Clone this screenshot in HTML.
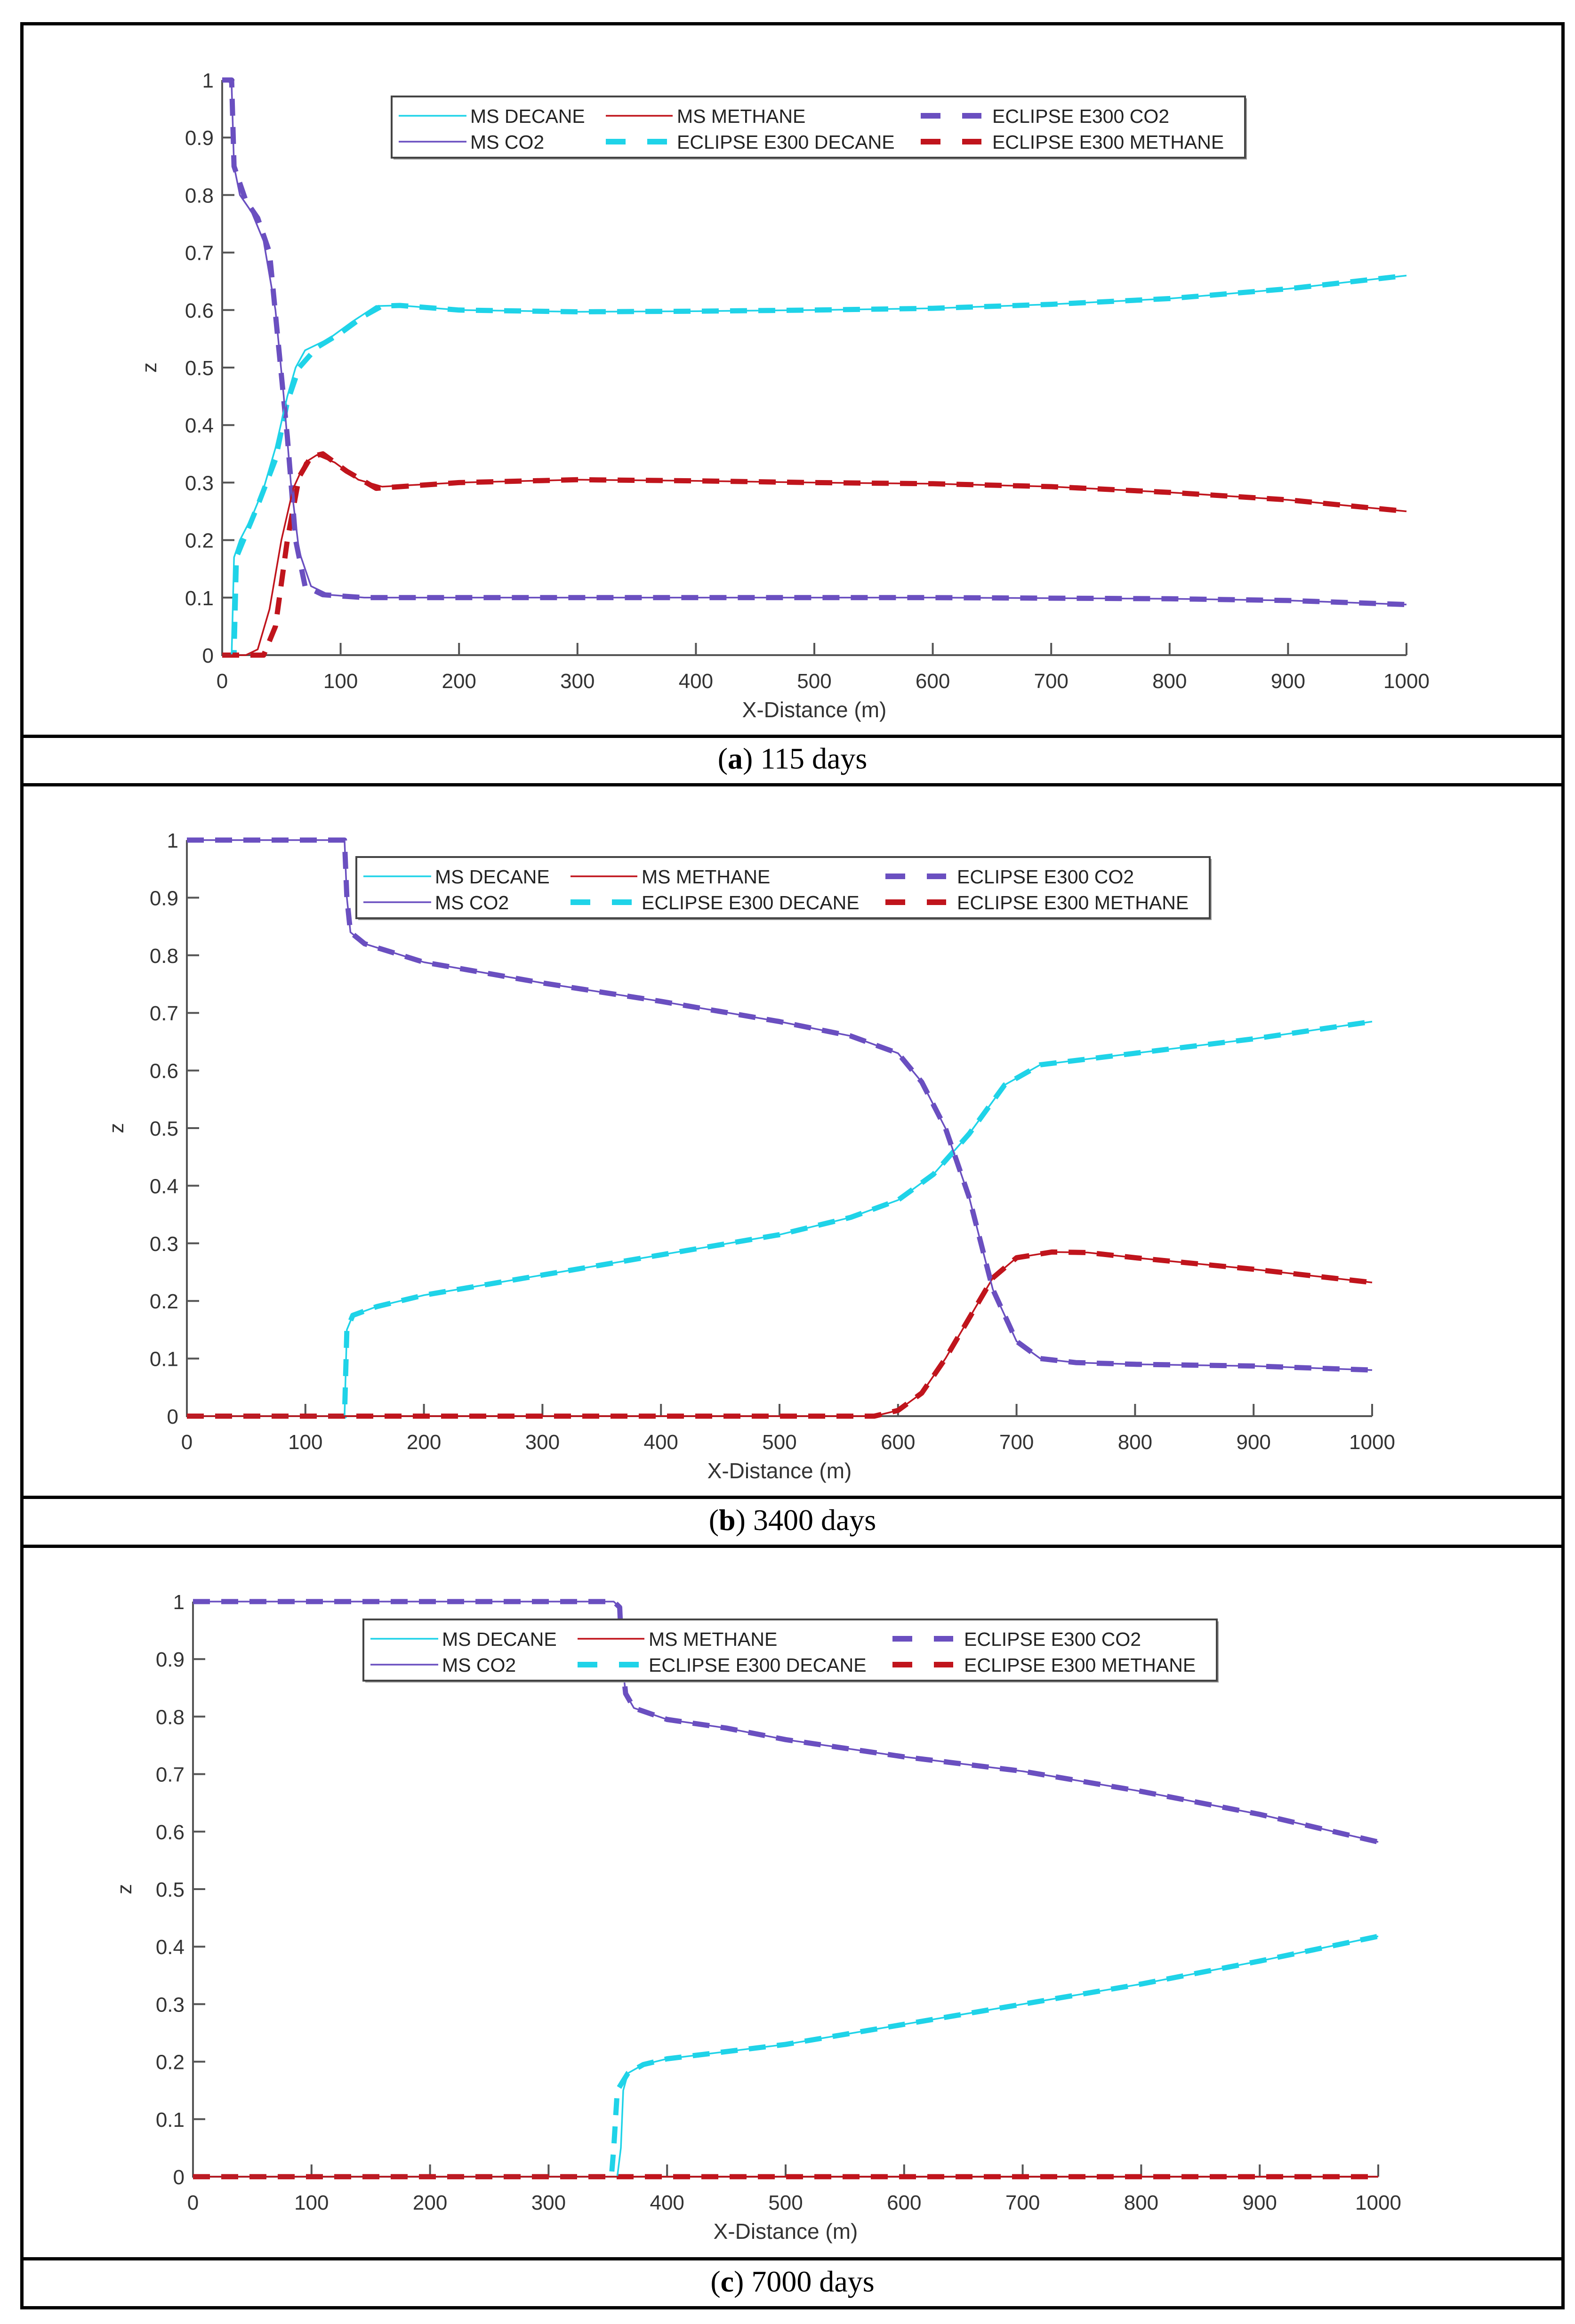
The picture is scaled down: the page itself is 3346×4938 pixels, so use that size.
<!DOCTYPE html>
<html><head><meta charset="utf-8"><style>
html,body{margin:0;padding:0;background:#fff;}
body{width:3346px;height:4938px;position:relative;overflow:hidden;font-family:"Liberation Sans",sans-serif;}
.hl{position:absolute;left:43px;width:3281px;height:7px;background:#000;}
.vl{position:absolute;top:47px;width:7px;height:4860px;background:#000;}
.cap{position:absolute;left:43px;width:3281px;text-align:center;font-family:"Liberation Serif",serif;font-size:64px;line-height:64px;}
svg{position:absolute;left:0;top:0;}
</style></head><body>
<div class="hl" style="top:47px"></div>
<div class="hl" style="top:1561px"></div>
<div class="hl" style="top:1664px"></div>
<div class="hl" style="top:3178px"></div>
<div class="hl" style="top:3282px"></div>
<div class="hl" style="top:4796px"></div>
<div class="hl" style="top:4900px"></div>
<div class="vl" style="left:43px"></div>
<div class="vl" style="left:3317px"></div>
<div class="cap" style="top:1580px">(<b>a</b>) 115 days</div>
<div class="cap" style="top:3198px">(<b>b</b>) 3400 days</div>
<div class="cap" style="top:4816px">(<b>c</b>) 7000 days</div>
<svg id="chart" width="3346" height="4938"></svg>
<script>
// ---- data ----
const xTicks=[0,100,200,300,400,500,600,700,800,900,1000];
const yTicks=[0,0.1,0.2,0.3,0.4,0.5,0.6,0.7,0.8,0.9,1];
const legendLabels=["MS DECANE","MS METHANE","ECLIPSE E300 CO2","MS CO2","ECLIPSE E300 DECANE","ECLIPSE E300 METHANE"];
// panel a (115 days)
const aMsCo2X=[0,5,8,10,15,25,35,45,52,58,65,75,90,120,200,400,600,800,900,1000];
const aMsCo2Y=[1,1,0.99,0.85,0.8,0.77,0.72,0.6,0.45,0.3,0.18,0.12,0.105,0.1,0.1,0.1,0.1,0.098,0.095,0.088];
const aEcCo2X=[0,8,10,20,30,40,47,55,62,70,85,120,200,400,600,800,900,1000];
const aEcCo2Y=[1,1,0.85,0.79,0.76,0.7,0.55,0.38,0.2,0.12,0.105,0.1,0.1,0.1,0.1,0.098,0.095,0.088];
const aMsDecX=[0,8,10,15,25,35,45,55,62,70,90,110,130,150,200,300,400,500,600,700,800,900,1000];
const aMsDecY=[0,0,0.17,0.2,0.24,0.29,0.36,0.45,0.5,0.53,0.55,0.58,0.607,0.608,0.6,0.597,0.598,0.6,0.603,0.61,0.62,0.637,0.66];
const aEcDecX=[0,10,12,20,30,45,55,65,80,100,120,135,150,200,300,400,500,600,700,800,900,1000];
const aEcDecY=[0,0,0.17,0.21,0.26,0.34,0.44,0.5,0.535,0.56,0.59,0.607,0.608,0.6,0.597,0.598,0.6,0.603,0.61,0.62,0.637,0.66];
const aMsMetX=[0,20,30,40,50,60,70,80,95,115,135,200,300,400,500,600,700,800,900,1000];
const aMsMetY=[0,0,0.01,0.08,0.2,0.29,0.335,0.348,0.335,0.305,0.293,0.3,0.305,0.303,0.3,0.298,0.293,0.283,0.27,0.25];
const aEcMetX=[0,35,45,55,65,75,85,105,130,200,300,400,500,600,700,800,900,1000];
const aEcMetY=[0,0,0.05,0.2,0.31,0.345,0.35,0.32,0.29,0.3,0.305,0.303,0.3,0.298,0.293,0.283,0.27,0.25];
// panel b (3400 days)
const bCo2X=[0,133,135,138,150,200,300,400,500,560,600,620,640,660,680,700,720,750,800,900,1000];
const bCo2Y=[1,1,0.9,0.84,0.82,0.788,0.752,0.72,0.685,0.66,0.63,0.58,0.5,0.38,0.22,0.13,0.1,0.093,0.09,0.087,0.08];
const bDecX=[0,133,135,140,160,200,300,400,500,560,600,630,660,690,720,800,900,1000];
const bDecY=[0,0,0.15,0.175,0.19,0.21,0.245,0.28,0.315,0.345,0.375,0.42,0.49,0.575,0.61,0.63,0.655,0.685];
const bMetX=[0,580,600,620,640,660,680,700,730,760,800,900,1000];
const bMetY=[0,0,0.01,0.04,0.1,0.17,0.24,0.275,0.285,0.284,0.275,0.255,0.232];
// panel c (7000 days)
const cCo2X=[0,355,360,362,365,372,400,450,500,600,700,800,900,1000];
const cCo2Y=[1,1,0.99,0.9,0.84,0.815,0.795,0.78,0.76,0.73,0.705,0.67,0.63,0.582];
const cMsDecX=[0,358,361,363,367,380,400,500,600,700,800,900,1000];
const cMsDecY=[0,0,0.05,0.15,0.18,0.195,0.205,0.23,0.265,0.3,0.335,0.375,0.418];
const cEcDecX=[0,353,355,358,367,380,400,500,600,700,800,900,1000];
const cEcDecY=[0,0,0.05,0.15,0.18,0.195,0.205,0.23,0.265,0.3,0.335,0.375,0.418];
const cMetX=[0,1000];
const cMetY=[0,0];

const COL={dec:"#1fd3e8",met:"#c0141c",co2:"#6a4fc0"};
const NS="http://www.w3.org/2000/svg";
const svg=document.getElementById('chart');
function mk(tag,attrs,parent){const e=document.createElementNS(NS,tag);for(const k in attrs)e.setAttribute(k,attrs[k]);(parent||svg).appendChild(e);return e;}

const panels=[
 {id:'a',x0:472,x1:2988,y0:1392,y1:170,lg:[832,205],zx:332,
  ec:[[aEcDecX,aEcDecY,'dec'],[aEcMetX,aEcMetY,'met'],[aEcCo2X,aEcCo2Y,'co2']],
  ms:[[aMsDecX,aMsDecY,'dec'],[aMsMetX,aMsMetY,'met'],[aMsCo2X,aMsCo2Y,'co2']]},
 {id:'b',x0:397,x1:2915,y0:3009,y1:1785,lg:[757,1821],zx:262,
  ec:[[bDecX,bDecY,'dec'],[bMetX,bMetY,'met'],[bCo2X,bCo2Y,'co2']],
  ms:[[bDecX,bDecY,'dec'],[bMetX,bMetY,'met'],[bCo2X,bCo2Y,'co2']]},
 {id:'c',x0:410,x1:2928,y0:4625,y1:3403,lg:[772,3441],zx:279,
  ec:[[cEcDecX,cEcDecY,'dec'],[cMetX,cMetY,'met'],[cCo2X,cCo2Y,'co2']],
  ms:[[cMsDecX,cMsDecY,'dec'],[cMetX,cMetY,'met'],[cCo2X,cCo2Y,'co2']]}
];

panels.forEach(p=>{
  const g=mk('g',{});
  
  
  const sx=v=>p.x0+(p.x1-p.x0)*v/1000;
  const sy=v=>p.y0+(p.y1-p.y0)*v;
  const ax=mk('path',{d:`M${p.x0},${p.y1}V${p.y0}H${p.x1}`,fill:'none',stroke:'#555',"stroke-width":4},g);
  
  
  xTicks.forEach(t=>{
    mk('line',{x1:sx(t),x2:sx(t),y1:p.y0,y2:p.y0-26,stroke:'#555','stroke-width':4},g);
    const tx=mk('text',{x:sx(t),y:p.y0+70,'text-anchor':'middle','font-size':44,fill:'#333'},g);
    tx.textContent=t;
    
    
  });
  yTicks.forEach(t=>{
    mk('line',{x1:p.x0,x2:p.x0+26,y1:sy(t),y2:sy(t),stroke:'#555','stroke-width':4},g);
    const tx=mk('text',{x:p.x0-18,y:sy(t)+16,'text-anchor':'end','font-size':44,fill:'#333'},g);
    tx.textContent=t;
    
    
  });
  const xl=mk('text',{x:(p.x0+p.x1)/2,y:p.y0+132,'text-anchor':'middle','font-size':46,fill:'#333'},g);
  xl.textContent='X-Distance (m)';
  
  
  const yl=mk('text',{x:p.zx,y:(p.y0+p.y1)/2,'text-anchor':'middle','font-size':44,fill:'#333',transform:`rotate(-90 ${p.zx} ${(p.y0+p.y1)/2})`},g);
  yl.textContent='z';
  
  
  const path=(X,Y)=>X.map((x,i)=>(i?'L':'M')+sx(x).toFixed(1)+','+sy(Y[i]).toFixed(1)).join('');
  p.ec.forEach(([X,Y,c])=>{
    const e=mk('path',{d:path(X,Y),fill:'none',stroke:COL[c],'stroke-width':11,'stroke-dasharray':'36 24','stroke-linejoin':'round'},g);
    
    
  });
  p.ms.forEach(([X,Y,c])=>{
    const e=mk('path',{d:path(X,Y),fill:'none',stroke:COL[c],'stroke-width':3.5,'stroke-linejoin':'round'},g);
    
    
  });
  const lx=p.lg[0],ly=p.lg[1];
  const lgG=mk('g',{},g);
  
  
  mk('rect',{x:lx+4,y:ly+4,width:1813,height:130,fill:'#999'},lgG);
  mk('rect',{x:lx,y:ly,width:1813,height:130,fill:'#fff',stroke:'#444','stroke-width':4},lgG);
  const cols=[[15,159,167],[455,597,606],[1124,1253,1276]];
  const styles=[['dec',0],['met',0],['co2',1],['co2',0],['dec',1],['met',1]];
  legendLabels.forEach((lab,i)=>{
    const r=Math.floor(i/3),c=i%3;const yy=ly+(r?96:41);
    const [cl,dash]=styles[i];
    mk('line',{x1:lx+cols[c][0],x2:lx+cols[c][1],y1:yy,y2:yy,stroke:COL[cl],'stroke-width':dash?12:3.5,'stroke-dasharray':dash?'42 46':'none'},lgG);
    const t=mk('text',{x:lx+cols[c][2],y:yy+15,'font-size':41,fill:'#222'},lgG);
    t.textContent=lab;
    
    
  });
});
</script>
</body></html>
